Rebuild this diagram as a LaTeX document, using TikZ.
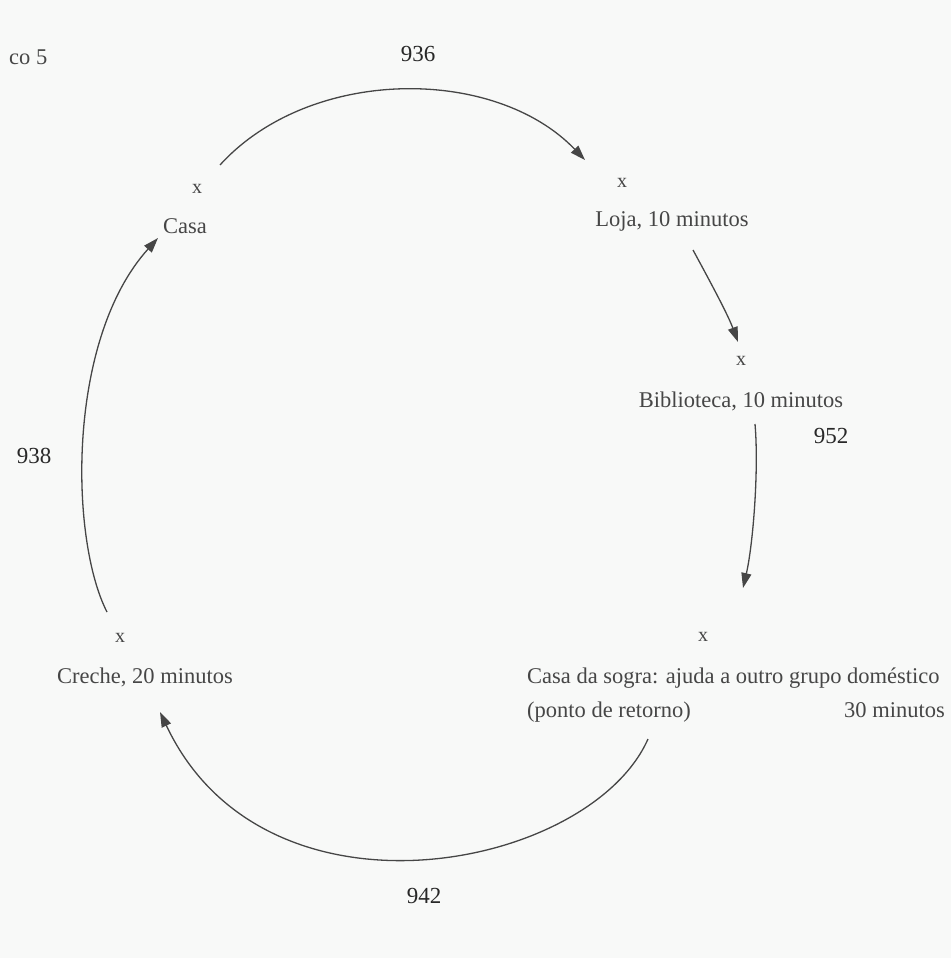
\documentclass[tikz,border=0pt]{standalone}
\usepackage{fontspec}
\setmainfont{Liberation Serif}
\usetikzlibrary{arrows.meta}
\definecolor{paper}{RGB}{248,249,248}
\definecolor{ink}{RGB}{70,70,70}
\definecolor{numink}{RGB}{40,40,40}
\begin{document}
\begin{tikzpicture}[x=1pt,y=-1pt,
  lbl/.style={anchor=base,inner sep=0pt,text=ink,font=\fontsize{22.5}{26}\selectfont},
  num/.style={anchor=base,inner sep=0pt,text=numink,font=\fontsize{23}{26}\selectfont},
  xmark/.style={anchor=base,inner sep=0pt,text=ink,font=\fontsize{20}{24}\selectfont},
  flow/.style={draw=ink,line width=1.3pt,-{Triangle[length=15pt,width=10pt]}}]
\fill[paper] (0,0) rectangle (951,958);
\useasboundingbox (0,0) rectangle (951,958);
% labels
\node[lbl,anchor=base west] (fig) at (9,65) {co 5};
\node[num] (n936) at (418,62) {936};
\node[num] (n952) at (831,443) {952};
\node[num] (n938) at (34,463) {938};
\node[num] (n942) at (424,903) {942};
% places
\node[xmark] (xcasa) at (197,193) {x};
\node[lbl] (casa) at (185,233) {Casa};
\node[xmark] (xloja) at (622,187) {x};
\node[lbl] (loja) at (672,226) {Loja, 10 minutos};
\node[xmark] (xbib) at (741,365) {x};
\node[lbl] (bib) at (741,407) {Biblioteca, 10 minutos};
\node[xmark] (xsogra) at (703,641) {x};
\node[lbl,anchor=base west] (sogra) at (527,683) {Casa da sogra: ajuda a outro grupo doméstico};
\node[lbl,anchor=base west] (retorno) at (527,717) {(ponto de retorno)};
\node[lbl,anchor=base east] (min30) at (945,717) {30 minutos};
\node[xmark] (xcreche) at (120,642) {x};
\node[lbl] (creche) at (145,683) {Creche, 20 minutos};
% connector end points
\coordinate (a1) at (220,165);
\coordinate (b1) at (585,160);
\coordinate (a2) at (693,250);
\coordinate (b2) at (738,342);
\coordinate (a3) at (755,424);
\coordinate (b3) at (743,588);
\coordinate (a4) at (648,739);
\coordinate (b4) at (160,712);
\coordinate (a5) at (107,612);
\coordinate (b5) at (158,238);
% connectors
\draw[flow] (a1) .. controls (310,66) and (495,66) .. (b1);
\draw[flow] (a2) .. controls (712,285) and (728,315) .. (b2);
\draw[flow] (a3) .. controls (759,470) and (753,545) .. (b3);
\draw[flow] (a4) .. controls (590,870) and (265,935) .. (b4);
\draw[flow] (a5) .. controls (70,540) and (66,340) .. (b5);
\end{tikzpicture}
\end{document}
